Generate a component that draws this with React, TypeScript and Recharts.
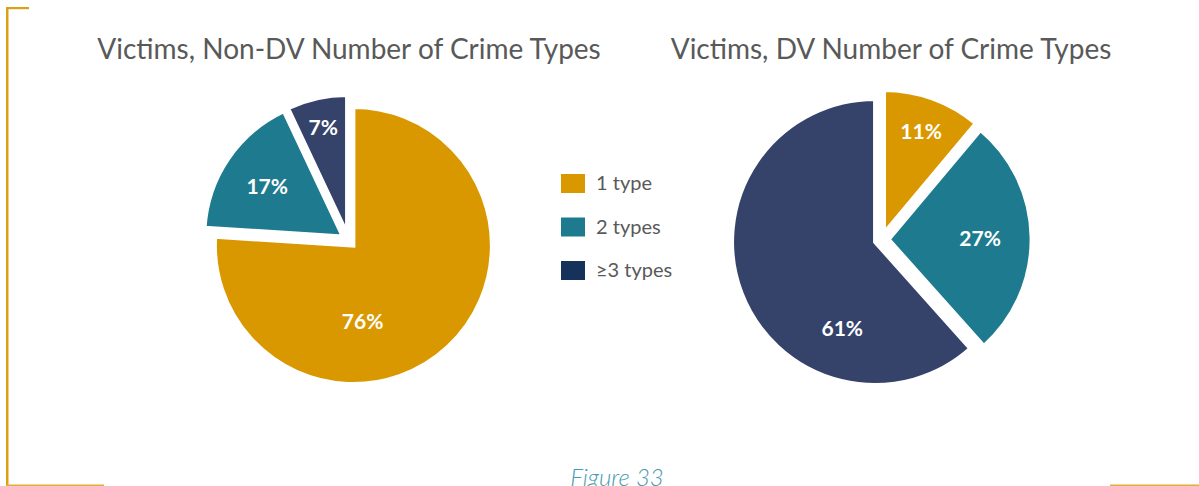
import React from "react";
import { PieChart, Pie, Cell } from "recharts";

/* ── data ── */
const categories = ["1 type", "2 types", "≥3 types"];
const nonDvShares = [76, 17, 7];
const dvShares = [11, 27, 61];
const chartTitles = [
  "Victims, Non-DV Number of Crime Types",
  "Victims, DV Number of Crime Types",
];
const captionText = "Figure 33";

/* ── styling ── */
const SLICE_COLORS = ["#DA9800", "#1E7B8F", "#35436B"];
const LEGEND_COLORS = ["#DA9800", "#1E7B8F", "#16325A"];
const TEXT_GREY = "#595959";
const FRAME_GOLD = "#DDA015";
const FONT = 'Lato, "Open Sans", sans-serif';

const W = 1199;
const H = 486;
const EXPLODE = 7;

// pie placement + per-slice label placement (fraction of radius, optional fixed angle)
const PIE_LAYOUT = [
  {
    cx: 348.6,
    cy: 240.4,
    r: 138.5,
    titleX: 349,
    labels: [{ r: 0.545, angle: -83 }, { r: 0.66 }, { r: 0.79 }],
  },
  {
    cx: 881.6,
    cy: 239.5,
    r: 143,
    titleX: 891,
    labels: [{ r: 0.76 }, { r: 0.64 }, { r: 0.64, angle: -111 }],
  },
];
const SERIES = [nonDvShares, dvShares];

function midAngles(values: number[]) {
  const total = values.reduce((a, b) => a + b, 0);
  let acc = 0;
  return values.map((v) => {
    const m = 90 - (360 * (acc + v / 2)) / total;
    acc += v;
    return m;
  });
}

const renderLabel =
  (k: number, place: { r: number; angle?: number }) => (props: any) => {
    if (props.index !== k) return null;
    const ang = ((place.angle ?? props.midAngle) * Math.PI) / 180;
    const rr = props.outerRadius * place.r;
    return (
      <text
        x={props.cx + rr * Math.cos(ang)}
        y={props.cy - rr * Math.sin(ang)}
        fill="#fff"
        textAnchor="middle"
        dominantBaseline="central"
        fontFamily={FONT}
        fontWeight={700}
        fontSize={21}
      >
        {props.value}%
      </text>
    );
  };

export default function App() {
  // every slice is exploded, so each one gets its own Pie shifted along its bisector
  const pies = PIE_LAYOUT.flatMap((p, pi) => {
    const values = SERIES[pi];
    const data = categories.map((name, i) => ({ name, value: values[i] }));
    const mids = midAngles(values);
    return categories.map((_, k) => {
      const rad = (mids[k] * Math.PI) / 180;
      return (
        <Pie
          key={`${pi}-${k}`}
          data={data}
          dataKey="value"
          nameKey="name"
          cx={p.cx + EXPLODE * Math.cos(rad)}
          cy={p.cy - EXPLODE * Math.sin(rad)}
          outerRadius={p.r}
          startAngle={90}
          endAngle={-270}
          isAnimationActive={false}
          labelLine={false}
          label={renderLabel(k, p.labels[k])}
        >
          {data.map((d, i) => (
            <Cell
              key={d.name}
              fill={i === k ? SLICE_COLORS[i] : "none"}
              stroke={i === k ? "#fff" : "none"}
              strokeWidth={4}
            />
          ))}
        </Pie>
      );
    });
  });

  return (
    <div
      style={{
        position: "absolute",
        left: 0,
        top: 0,
        width: W,
        height: H,
        overflow: "hidden",
        background: "#fff",
      }}
    >
      <PieChart width={W} height={H} margin={{ top: 0, right: 0, bottom: 0, left: 0 }}>
        {pies}
      </PieChart>

      <svg
        width={W}
        height={H}
        style={{ position: "absolute", left: 0, top: 0, pointerEvents: "none" }}
      >
        {/* gold bracket frame */}
        <rect x={6} y={7} width={2.5} height={H} fill={FRAME_GOLD} />
        <rect x={6} y={7} width={23} height={2.2} fill={FRAME_GOLD} />
        <rect x={6} y={484.5} width={98} height={2} fill="#E3AE3A" />
        <rect x={1110} y={484.5} width={89} height={2} fill="#E3AE3A" />

        {chartTitles.map((t, i) => (
          <text
            key={t}
            x={PIE_LAYOUT[i].titleX}
            y={59}
            textAnchor="middle"
            fontFamily={FONT}
            fontSize={28}
            fill={TEXT_GREY}
          >
            {t}
          </text>
        ))}

        {categories.map((c, i) => (
          <g key={c}>
            <rect
              x={561}
              y={174 + i * 43.5}
              width={24}
              height={19}
              fill={LEGEND_COLORS[i]}
            />
            <text
              x={596}
              y={190 + i * 43.5}
              fontFamily={FONT}
              fontSize={20}
              fill={TEXT_GREY}
            >
              {c}
            </text>
          </g>
        ))}

        <text
          x={617}
          y={486}
          textAnchor="middle"
          fontFamily={FONT}
          fontStyle="italic"
          fontWeight={300}
          fontSize={24}
          fill="#4A9BB0"
        >
          {captionText}
        </text>
      </svg>
    </div>
  );
}
